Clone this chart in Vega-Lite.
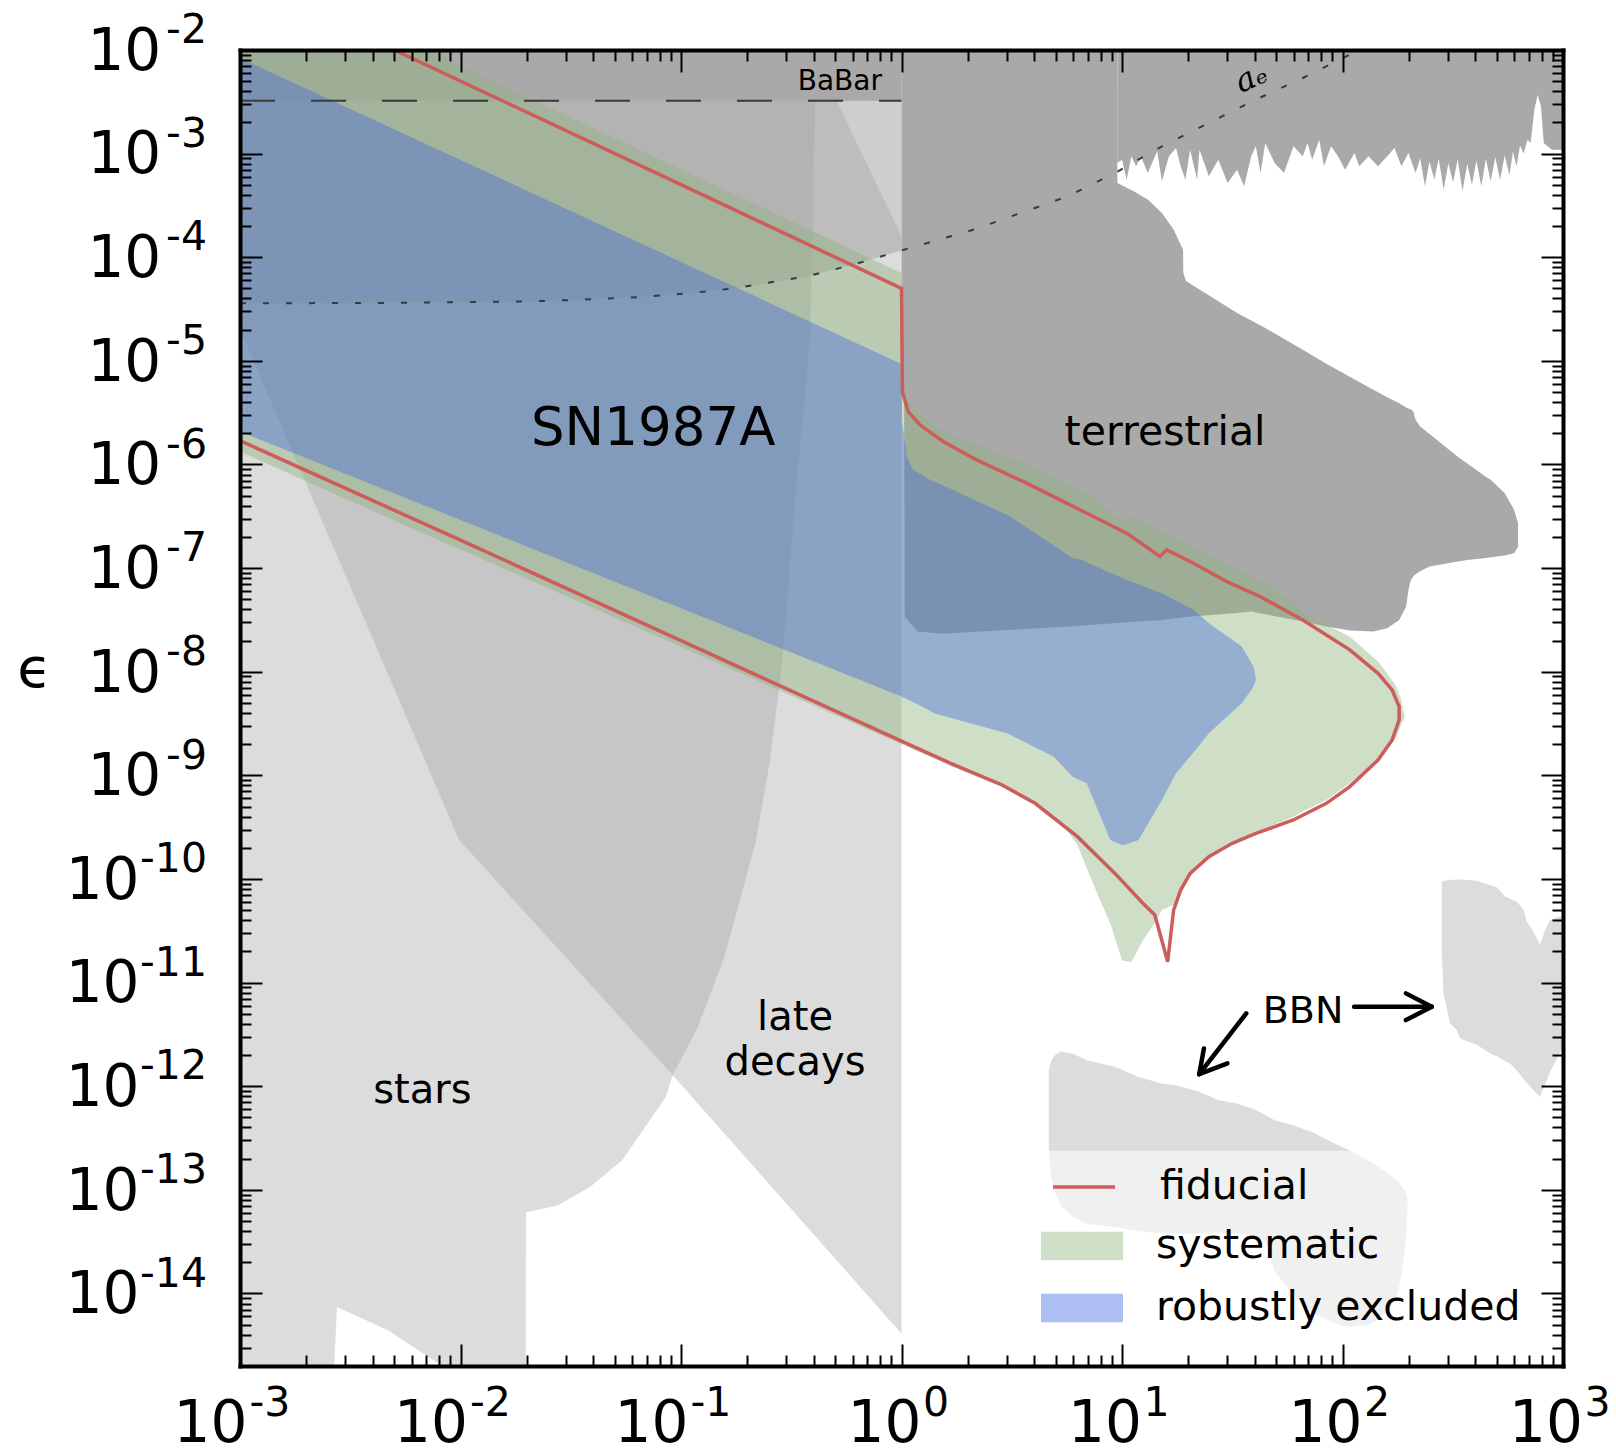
{
"$schema": "https://vega.github.io/schema/vega-lite/v6.json",
"width": 1323, "height": 1316,
"autosize": {"type": "none"},
"padding": {"left": 240, "top": 50, "right": 53, "bottom": 84},
"background": "white",
"config": {"view": {"stroke": null}, "font": "DejaVu Sans"},
"resolve": {"axis": {"x": "independent", "y": "independent"}},
"datasets": {
"late": [{"x":0.001,"lo":2.0e-5,"hi":0.01},{"x":0.00986,"lo":2.377e-10,"hi":0.01},{"x":0.09173,"lo":1.279e-12,"hi":0.01},{"x":1,"lo":4.093e-15,"hi":0.01}],
"stars": [{"x":0.001,"lo":1e-15,"hi":0.01},{"x":0.00263,"lo":1e-15,"hi":0.01},{"x":0.002754,"lo":7.41e-15,"hi":0.01},{"x":0.004688,"lo":4.41e-15,"hi":0.01},{"x":0.008954,"lo":1.78e-15,"hi":0.01},{"x":0.01977,"lo":1.78e-15,"hi":0.01},{"x":0.01982,"lo":6.04e-14,"hi":0.01},{"x":0.02767,"lo":7.10e-14,"hi":0.01},{"x":0.03868,"lo":1.067e-13,"hi":0.01},{"x":0.05408,"lo":1.932e-13,"hi":0.01},{"x":0.07047,"lo":4.365e-13,"hi":0.01},{"x":0.08531,"lo":7.889e-13,"hi":0.01},{"x":0.09173,"lo":1.279e-12,"hi":0.01},{"x":0.1194,"lo":3.741e-12,"hi":0.01},{"x":0.1574,"lo":1.778e-11,"hi":0.01},{"x":0.2175,"lo":2.208e-10,"hi":0.01},{"x":0.2512,"lo":1.259e-9,"hi":0.01},{"x":0.2767,"lo":6.194e-9,"hi":0.01},{"x":0.2901,"lo":1.507e-8,"hi":0.01},{"x":0.335,"lo":7.079e-7,"hi":0.01},{"x":0.3631,"lo":3.981e-6,"hi":0.01},{"x":0.3837,"lo":1.585e-5,"hi":0.01},{"x":0.3981,"lo":2.512e-4,"hi":0.01},{"x":0.4074,"lo":0.01,"hi":0.01}],
"ae": [{"x":0.001,"lo":3.589e-5,"hi":0.01},{"x":0.005012,"lo":3.63e-5,"hi":0.01},{"x":0.02061,"lo":3.75e-5,"hi":0.01},{"x":0.03548,"lo":3.89e-5,"hi":0.01},{"x":0.06501,"lo":4.13e-5,"hi":0.01},{"x":0.1122,"lo":4.519e-5,"hi":0.01},{"x":0.1786,"lo":5.047e-5,"hi":0.01},{"x":0.3707,"lo":6.531e-5,"hi":0.01},{"x":0.6039,"lo":8.472e-5,"hi":0.01},{"x":1,"lo":1.164e-4,"hi":0.01}],
"beam": [{"x":0.001,"lo":3.589e-5,"hi":3.243e-3},{"x":0.005012,"lo":3.63e-5,"hi":3.243e-3},{"x":0.02061,"lo":3.75e-5,"hi":3.243e-3},{"x":0.03548,"lo":3.89e-5,"hi":3.243e-3},{"x":0.06501,"lo":4.13e-5,"hi":3.243e-3},{"x":0.1122,"lo":4.519e-5,"hi":3.243e-3},{"x":0.1786,"lo":5.047e-5,"hi":3.243e-3},{"x":0.3707,"lo":6.531e-5,"hi":3.243e-3},{"x":0.507,"lo":7.727e-5,"hi":3.243e-3},{"x":0.6039,"lo":8.472e-5,"hi":1.493e-3},{"x":1,"lo":1.164e-4,"hi":1.592e-4}],
"bbnUpper": [{"x":4.656,"lo":2.51e-13,"hi":1.41e-12},{"x":4.667,"lo":2.377e-13,"hi":1.44e-12},{"x":4.786,"lo":2.377e-13,"hi":1.78e-12},{"x":5.012,"lo":2.377e-13,"hi":2.04e-12},{"x":5.284,"lo":2.377e-13,"hi":2.15e-12},{"x":5.97,"lo":2.377e-13,"hi":2.07e-12},{"x":6.918,"lo":2.377e-13,"hi":1.78e-12},{"x":9.29,"lo":2.377e-13,"hi":1.54e-12},{"x":11.89,"lo":2.377e-13,"hi":1.23e-12},{"x":15.17,"lo":2.377e-13,"hi":1.06e-12},{"x":17.58,"lo":2.377e-13,"hi":1.02e-12},{"x":22.44,"lo":2.377e-13,"hi":8.83e-13},{"x":27.35,"lo":2.377e-13,"hi":7.33e-13},{"x":33.27,"lo":2.377e-13,"hi":6.81e-13},{"x":40.46,"lo":2.377e-13,"hi":5.88e-13},{"x":44.67,"lo":2.377e-13,"hi":5.25e-13},{"x":49.2,"lo":2.377e-13,"hi":4.7e-13},{"x":59.84,"lo":2.377e-13,"hi":4.21e-13},{"x":74.13,"lo":2.377e-13,"hi":3.55e-13},{"x":80.35,"lo":2.377e-13,"hi":3.24e-13},{"x":97.72,"lo":2.377e-13,"hi":2.63e-13},{"x":107.9,"lo":2.377e-13,"hi":2.41e-13},{"x":109.1,"lo":2.377e-13,"hi":2.377e-13}],
"bbnUnderLegend": [{"x":4.667,"lo":2.377e-13,"hi":2.377e-13},{"x":4.786,"lo":1.26e-13,"hi":2.377e-13},{"x":5.012,"lo":8.91e-14,"hi":2.377e-13},{"x":5.284,"lo":7.08e-14,"hi":2.377e-13},{"x":5.97,"lo":5.5e-14,"hi":2.377e-13},{"x":6.918,"lo":4.68e-14,"hi":2.377e-13},{"x":9.29,"lo":4.37e-14,"hi":2.377e-13},{"x":11.89,"lo":3.98e-14,"hi":2.377e-13},{"x":15.17,"lo":3.8e-14,"hi":2.377e-13},{"x":17.58,"lo":3.8e-14,"hi":2.377e-13},{"x":22.44,"lo":3.8e-14,"hi":2.377e-13},{"x":27.35,"lo":3.8e-14,"hi":2.377e-13},{"x":33.27,"lo":3.8e-14,"hi":2.377e-13},{"x":40.46,"lo":3.63e-14,"hi":2.377e-13},{"x":44.67,"lo":3.16e-14,"hi":2.377e-13},{"x":49.2,"lo":1.66e-14,"hi":2.377e-13},{"x":59.84,"lo":9.55e-15,"hi":2.377e-13},{"x":74.13,"lo":6.46e-15,"hi":2.377e-13},{"x":80.35,"lo":5.89e-15,"hi":2.377e-13},{"x":97.72,"lo":4.9e-15,"hi":2.377e-13},{"x":107.9,"lo":4.79e-15,"hi":2.377e-13},{"x":109.1,"lo":4.8e-15,"hi":2.377e-13},{"x":125.9,"lo":4.9e-15,"hi":2.0e-13},{"x":138.0,"lo":5.25e-15,"hi":1.8e-13},{"x":158.5,"lo":6.61e-15,"hi":1.48e-13},{"x":176.2,"lo":9.12e-15,"hi":1.24e-13},{"x":186.2,"lo":1.585e-14,"hi":1.07e-13},{"x":194.5,"lo":3.55e-14,"hi":9.2e-14},{"x":197.2,"lo":6.31e-14,"hi":7.94e-14}],
"bbnR": [{"x":281.8,"lo":2.042e-11,"hi":9.419e-11},{"x":287.1,"lo":7.87e-12,"hi":9.55e-11},{"x":307.6,"lo":4.036e-12,"hi":9.772e-11},{"x":329.6,"lo":3.467e-12,"hi":9.908e-11},{"x":342.0,"lo":2.891e-12,"hi":9.863e-11},{"x":406.4,"lo":2.512e-12,"hi":9.638e-11},{"x":467.7,"lo":2.07e-12,"hi":8.71e-11},{"x":501.2,"lo":1.95e-12,"hi":8.299e-11},{"x":547.0,"lo":1.738e-12,"hi":6.745e-11},{"x":575.4,"lo":1.66e-12,"hi":6.457e-11},{"x":618.0,"lo":1.413e-12,"hi":6.039e-11},{"x":662.2,"lo":1.175e-12,"hi":5.012e-11},{"x":685.5,"lo":1.072e-12,"hi":3.873e-11},{"x":734.5,"lo":9.12e-13,"hi":3.097e-11},{"x":787.0,"lo":7.907e-13,"hi":2.301e-11},{"x":829.8,"lo":1.047e-12,"hi":3.214e-11},{"x":875.0,"lo":1.38e-12,"hi":4.018e-11},{"x":937.6,"lo":1.854e-12,"hi":4.266e-11},{"x":970.5,"lo":2.089e-12,"hi":4.325e-11},{"x":1000,"lo":2.399e-12,"hi":4.325e-11}],
"babar": [{"x":0.001,"lo":3.243e-3,"hi":0.01},{"x":1,"lo":3.243e-3,"hi":0.01}],
"terrBody": [{"x":1.0,"lo":5.62e-6,"hi":0.01},{"x":1.028,"lo":5.01e-6,"hi":0.01},{"x":1.035,"lo":3.40e-8,"hi":0.01},{"x":1.183,"lo":2.44e-8,"hi":0.01},{"x":1.514,"lo":2.32e-8,"hi":0.01},{"x":5.689,"lo":2.73e-8,"hi":0.01},{"x":9.506,"lo":2.95e-8,"hi":0.01},{"x":9.528,"lo":2.95e-8,"hi":5.21e-4},{"x":11.30,"lo":3.03e-8,"hi":4.34e-4},{"x":13.09,"lo":3.09e-8,"hi":3.60e-4},{"x":15.17,"lo":3.16e-8,"hi":2.67e-4},{"x":17.14,"lo":3.26e-8,"hi":1.85e-4},{"x":18.92,"lo":3.34e-8,"hi":1.18e-4},{"x":18.97,"lo":3.34e-8,"hi":7.08e-5},{"x":19.50,"lo":3.37e-8,"hi":5.89e-5},{"x":33.27,"lo":3.68e-8,"hi":2.89e-5},{"x":38.55,"lo":3.81e-8,"hi":2.45e-5},{"x":44.67,"lo":3.58e-8,"hi":2.07e-5},{"x":66.07,"lo":3.05e-8,"hi":1.28e-5},{"x":84.53,"lo":2.73e-8,"hi":9.40e-6},{"x":107.9,"lo":2.50e-8,"hi":7.02e-6},{"x":138.0,"lo":2.44e-8,"hi":5.26e-6},{"x":159.6,"lo":2.63e-8,"hi":4.46e-6},{"x":180.7,"lo":3.16e-8,"hi":3.89e-6},{"x":194.5,"lo":4.26e-8,"hi":3.55e-6},{"x":199.1,"lo":6.17e-8,"hi":3.47e-6},{"x":204.2,"lo":7.69e-8,"hi":3.39e-6},{"x":209.4,"lo":8.32e-8,"hi":3.25e-6},{"x":214.3,"lo":8.71e-8,"hi":2.70e-6},{"x":224.9,"lo":9.33e-8,"hi":2.33e-6},{"x":248.3,"lo":1.035e-7,"hi":1.97e-6},{"x":333.4,"lo":1.16e-7,"hi":1.19e-6},{"x":368.1,"lo":1.20e-7,"hi":1.02e-6},{"x":447.7,"lo":1.25e-7,"hi":7.59e-7},{"x":469.9,"lo":1.27e-7,"hi":7.11e-7},{"x":544.5,"lo":1.32e-7,"hi":5.28e-7},{"x":599.8,"lo":1.39e-7,"hi":3.65e-7},{"x":625.2,"lo":1.61e-7,"hi":2.72e-7}],
"terrTop": [{"x":9.522,"lo":8.122e-4,"hi":0.01},{"x":10.0,"lo":8.744e-4,"hi":0.01},{"x":10.50,"lo":5.605e-4,"hi":0.01},{"x":11.03,"lo":9.417e-4,"hi":0.01},{"x":11.59,"lo":7.541e-4,"hi":0.01},{"x":12.17,"lo":9.417e-4,"hi":0.01},{"x":13.09,"lo":6.501e-4,"hi":0.01},{"x":14.44,"lo":1.052e-3,"hi":0.01},{"x":15.17,"lo":5.401e-4,"hi":0.01},{"x":16.33,"lo":9.417e-4,"hi":0.01},{"x":17.58,"lo":1.133e-3,"hi":0.01},{"x":18.46,"lo":7.541e-4,"hi":0.01},{"x":19.39,"lo":5.605e-4,"hi":0.01},{"x":20.36,"lo":1.092e-3,"hi":0.01},{"x":21.92,"lo":5.605e-4,"hi":0.01},{"x":22.46,"lo":1.092e-3,"hi":0.01},{"x":24.77,"lo":6.036e-4,"hi":0.01},{"x":27.33,"lo":8.744e-4,"hi":0.01},{"x":30.15,"lo":5.204e-4,"hi":0.01},{"x":33.26,"lo":7.001e-4,"hi":0.01},{"x":35.80,"lo":4.832e-4,"hi":0.01},{"x":38.53,"lo":9.417e-4,"hi":0.01},{"x":40.46,"lo":1.176e-3,"hi":0.01},{"x":42.49,"lo":6.501e-4,"hi":0.01},{"x":44.63,"lo":1.267e-3,"hi":0.01},{"x":49.22,"lo":8.122e-4,"hi":0.01},{"x":54.31,"lo":6.501e-4,"hi":0.01},{"x":59.91,"lo":1.176e-3,"hi":0.01},{"x":66.07,"lo":9.417e-4,"hi":0.01},{"x":69.38,"lo":1.267e-3,"hi":0.01},{"x":72.87,"lo":8.744e-4,"hi":0.01},{"x":78.45,"lo":1.364e-3,"hi":0.01},{"x":82.39,"lo":7.541e-4,"hi":0.01},{"x":88.68,"lo":1.176e-3,"hi":0.01},{"x":95.46,"lo":9.417e-4,"hi":0.01},{"x":102.7,"lo":7.001e-4,"hi":0.01},{"x":113.3,"lo":1.014e-3,"hi":0.01},{"x":119.0,"lo":7.541e-4,"hi":0.01},{"x":131.3,"lo":9.417e-4,"hi":0.01},{"x":144.8,"lo":7.541e-4,"hi":0.01},{"x":159.7,"lo":9.417e-4,"hi":0.01},{"x":172.0,"lo":1.133e-3,"hi":0.01},{"x":185.1,"lo":7.541e-4,"hi":0.01},{"x":199.2,"lo":1.014e-3,"hi":0.01},{"x":214.4,"lo":6.501e-4,"hi":0.01},{"x":225.0,"lo":9.0e-4,"hi":0.01},{"x":236.5,"lo":4.832e-4,"hi":0.01},{"x":248.0,"lo":8.4e-4,"hi":0.01},{"x":260.9,"lo":5.6e-4,"hi":0.01},{"x":273.0,"lo":8.9e-4,"hi":0.01},{"x":287.7,"lo":4.487e-4,"hi":0.01},{"x":302.0,"lo":8.1e-4,"hi":0.01},{"x":317.4,"lo":5.3e-4,"hi":0.01},{"x":333.0,"lo":8.8e-4,"hi":0.01},{"x":350.1,"lo":4.324e-4,"hi":0.01},{"x":368.0,"lo":8.0e-4,"hi":0.01},{"x":386.3,"lo":5.0e-4,"hi":0.01},{"x":405.0,"lo":8.6e-4,"hi":0.01},{"x":426.0,"lo":4.832e-4,"hi":0.01},{"x":447.0,"lo":8.9e-4,"hi":0.01},{"x":469.9,"lo":5.4e-4,"hi":0.01},{"x":493.0,"lo":9.2e-4,"hi":0.01},{"x":518.3,"lo":5.605e-4,"hi":0.01},{"x":544.0,"lo":9.6e-4,"hi":0.01},{"x":571.7,"lo":6.2e-4,"hi":0.01},{"x":593.0,"lo":1.05e-3,"hi":0.01},{"x":615.2,"lo":7.541e-4,"hi":0.01},{"x":638.0,"lo":1.2e-3,"hi":0.01},{"x":662.4,"lo":1.0e-3,"hi":0.01},{"x":690.0,"lo":1.364e-3,"hi":0.01},{"x":712.9,"lo":1.267e-3,"hi":0.01},{"x":741.5,"lo":2.658e-3,"hi":0.01},{"x":767.4,"lo":3.709e-3,"hi":0.01},{"x":794.3,"lo":2.862e-3,"hi":0.01},{"x":817.9,"lo":1.267e-3,"hi":0.01},{"x":888.9,"lo":1.092e-3,"hi":0.01},{"x":1000,"lo":1.092e-3,"hi":0.01}],
"systematic": [{"x":0.001,"lo":1.334e-6,"hi":0.01},{"x":0.007031,"lo":2.084e-7,"hi":0.01},{"x":0.01,"lo":1.514e-7,"hi":7.031e-3},{"x":0.1,"lo":1.738e-8,"hi":7.031e-4},{"x":1.0,"lo":1.995e-9,"hi":7.031e-5},{"x":1.005,"lo":1.995e-9,"hi":6.026e-6},{"x":1.035,"lo":1.95e-9,"hi":5.26e-6},{"x":1.13,"lo":1.778e-9,"hi":3.373e-6},{"x":1.545,"lo":1.334e-9,"hi":2.084e-6},{"x":1.671,"lo":1.233e-9,"hi":1.95e-6},{"x":2.606,"lo":8.337e-10,"hi":1.337e-6},{"x":2.864,"lo":7.674e-10,"hi":1.23e-6},{"x":4.036,"lo":5.176e-10,"hi":9.226e-7},{"x":4.395,"lo":4.467e-10,"hi":8.57e-7},{"x":5.689,"lo":2.858e-10,"hi":6.457e-7},{"x":6.281,"lo":2.128e-10,"hi":5.888e-7},{"x":7.278,"lo":9.772e-11,"hi":5.012e-7},{"x":7.413,"lo":8.913e-11,"hi":4.909e-7},{"x":8.851,"lo":3.724e-11,"hi":3.548e-7},{"x":10.0,"lo":1.648e-11,"hi":2.884e-7},{"x":10.14,"lo":1.622e-11,"hi":2.818e-7},{"x":10.86,"lo":1.585e-11,"hi":3.105e-7},{"x":11.04,"lo":1.589e-11,"hi":3.055e-7},{"x":12.47,"lo":2.57e-11,"hi":2.692e-7},{"x":13.74,"lo":3.459e-11,"hi":2.455e-7},{"x":14.86,"lo":4.634e-11,"hi":2.254e-7},{"x":15.17,"lo":5.012e-11,"hi":2.213e-7},{"x":17.14,"lo":5.623e-11,"hi":1.95e-7},{"x":18.45,"lo":8.128e-11,"hi":1.82e-7},{"x":20.37,"lo":1.175e-10,"hi":1.66e-7},{"x":21.09,"lo":1.259e-10,"hi":1.614e-7},{"x":24.77,"lo":1.702e-10,"hi":1.349e-7},{"x":29.85,"lo":2.138e-10,"hi":1.114e-7},{"x":31.62,"lo":2.291e-10,"hi":1.047e-7},{"x":40.46,"lo":2.858e-10,"hi":8.128e-8},{"x":42.27,"lo":2.951e-10,"hi":7.762e-8},{"x":59.84,"lo":3.99e-10,"hi":4.677e-8},{"x":66.07,"lo":4.467e-10,"hi":3.811e-8},{"x":84.53,"lo":5.781e-10,"hi":2.818e-8},{"x":107.9,"lo":8.375e-10,"hi":2.183e-8},{"x":144.9,"lo":1.406e-9,"hi":1.253e-8},{"x":171.8,"lo":2.188e-9,"hi":7.745e-9},{"x":176.2,"lo":2.366e-9,"hi":7.079e-9},{"x":184.9,"lo":3.162e-9,"hi":5.346e-9},{"x":189.7,"lo":3.428e-9,"hi":3.981e-9},{"x":191.4,"lo":3.631e-9,"hi":3.802e-9}],
"robust": [{"x":0.001,"lo":2.08e-6,"hi":8.375e-3},{"x":0.01,"lo":2.917e-7,"hi":8.69e-4},{"x":0.1,"lo":4.093e-8,"hi":9.016e-5},{"x":1.0,"lo":5.754e-9,"hi":9.333e-6},{"x":1.007,"lo":5.689e-9,"hi":2.512e-6},{"x":1.019,"lo":5.623e-9,"hi":2.163e-6},{"x":1.054,"lo":5.495e-9,"hi":1.194e-6},{"x":1.13,"lo":5.082e-9,"hi":8.892e-7},{"x":1.245,"lo":4.603e-9,"hi":7.852e-7},{"x":1.3,"lo":4.365e-9,"hi":7.379e-7},{"x":1.406,"lo":3.972e-9,"hi":6.839e-7},{"x":1.841,"lo":3.388e-9,"hi":5.284e-7},{"x":3.006,"lo":2.547e-9,"hi":3.251e-7},{"x":3.105,"lo":2.46e-9,"hi":3.148e-7},{"x":4.909,"lo":1.514e-9,"hi":1.656e-7},{"x":5.97,"lo":9.705e-10,"hi":1.247e-7},{"x":6.442,"lo":9.036e-10,"hi":1.219e-7},{"x":6.918,"lo":8.375e-10,"hi":1.14e-7},{"x":8.851,"lo":2.377e-10,"hi":9.036e-8},{"x":10.0,"lo":2.128e-10,"hi":8.054e-8},{"x":10.5,"lo":2.168e-10,"hi":7.691e-8},{"x":11.89,"lo":2.377e-10,"hi":6.966e-8},{"x":15.17,"lo":5.781e-10,"hi":5.728e-8},{"x":17.58,"lo":1.047e-9,"hi":4.853e-8},{"x":21.09,"lo":1.66e-9,"hi":3.954e-8},{"x":24.77,"lo":2.547e-9,"hi":2.938e-8},{"x":34.91,"lo":4.966e-9,"hi":1.75e-8},{"x":39.45,"lo":7.178e-9,"hi":1.122e-8},{"x":40.46,"lo":8.318e-9,"hi":8.71e-9}],
"fiducial": [{"o":1,"x":0.005012,"y":0.01},{"o":2,"x":0.1,"y":5.012e-4},{"o":3,"x":1.0,"y":5.012e-5},{"o":4,"x":1.01,"y":5.012e-6},{"o":5,"x":1.072,"y":3.251e-6},{"o":6,"x":1.211,"y":2.415e-6},{"o":7,"x":1.545,"y":1.667e-6},{"o":8,"x":2.188,"y":1.109e-6},{"o":9,"x":3.69,"y":6.607e-7},{"o":10,"x":5.236,"y":4.56e-7},{"o":11,"x":7.413,"y":3.148e-7},{"o":12,"x":10.5,"y":2.173e-7},{"o":13,"x":14.86,"y":1.294e-7},{"o":14,"x":15.96,"y":1.5e-7},{"o":15,"x":21.09,"y":1.114e-7},{"o":16,"x":29.85,"y":7.413e-8},{"o":17,"x":42.27,"y":5.321e-8},{"o":18,"x":66.07,"y":3.162e-8},{"o":19,"x":107.9,"y":1.626e-8},{"o":20,"x":144.9,"y":9.661e-9},{"o":21,"x":167.9,"y":6.668e-9},{"o":22,"x":180.7,"y":4.603e-9},{"o":23,"x":180.7,"y":3.428e-9},{"o":24,"x":167.9,"y":2.198e-9},{"o":25,"x":144.9,"y":1.406e-9},{"o":26,"x":107.9,"y":7.78e-10},{"o":27,"x":84.53,"y":5.37e-10},{"o":28,"x":59.84,"y":3.707e-10},{"o":29,"x":40.46,"y":2.754e-10},{"o":30,"x":31.62,"y":2.208e-10},{"o":31,"x":24.77,"y":1.641e-10},{"o":32,"x":20.37,"y":1.132e-10},{"o":33,"x":18.45,"y":7.816e-11},{"o":34,"x":17.14,"y":5.012e-11},{"o":35,"x":16.11,"y":1.589e-11},{"o":36,"x":14.09,"y":4.487e-11},{"o":37,"x":12.47,"y":5.808e-11},{"o":38,"x":9.29,"y":1.132e-10},{"o":39,"x":6.281,"y":2.559e-10},{"o":40,"x":4.036,"y":5.37e-10},{"o":41,"x":2.864,"y":8.072e-10},{"o":42,"x":1.671,"y":1.306e-9},{"o":43,"x":1.0,"y":2.138e-9},{"o":44,"x":0.1,"y":1.995e-8},{"o":45,"x":0.01,"y":1.862e-7},{"o":46,"x":0.001,"y":1.698e-6}],
"dashed": [{"x":0.001,"y":3.243e-3},{"x":1,"y":3.243e-3}],
"dotted": [{"x":0.001,"y":3.589e-5},{"x":0.005012,"y":3.63e-5},{"x":0.02061,"y":3.75e-5},{"x":0.03548,"y":3.89e-5},{"x":0.06501,"y":4.13e-5},{"x":0.1122,"y":4.519e-5},{"x":0.1786,"y":5.047e-5},{"x":0.3707,"y":6.531e-5},{"x":0.6039,"y":8.472e-5},{"x":1,"y":1.164e-4},{"x":2.133,"y":1.849e-4},{"x":5.689,"y":3.882e-4},{"x":9.29,"y":6.501e-4},{"x":15.17,"y":1.175e-3},{"x":24.77,"y":1.977e-3},{"x":40.46,"y":3.319e-3},{"x":66.07,"y":5.37e-3},{"x":107.9,"y":9.036e-3},{"x":113.2,"y":0.01}],
"arrows": [{"x":112.9,"y":5.844e-12,"x2":253.9,"y2":5.844e-12},{"x":193.9,"y":7.87e-12,"x2":253.9,"y2":5.844e-12},{"x":193.9,"y":4.346e-12,"x2":253.9,"y2":5.844e-12},{"x":36.6,"y":5.045e-12,"x2":22.4,"y2":1.309e-12},{"x":30.08,"y":1.66e-12,"x2":22.4,"y2":1.309e-12},{"x":23.53,"y":2.317e-12,"x2":22.4,"y2":1.309e-12}],
"tSN": [{"x":0.0748,"y":1.549e-6,"t":"SN1987A"}],
"tTerr": [{"x":15.67,"y":1.549e-6,"t":"terrestrial"}],
"t40": [{"x":0.006716,"y":6.823e-13,"t":"stars"},{"x":0.329,"y":3.483e-12,"t":"late"},{"x":0.329,"y":1.279e-12,"t":"decays"}],
"tBaBar": [{"x":0.5254,"y":4.147e-3,"t":"BaBar"}],
"tBBN": [{"x":66.26,"y":4.04e-12,"t":"BBN"}],
"tAe": [{"x":38.46,"y":5.42e-3,"t":"aₑ"}]
},
"layer": [
{"data":{"name":"late"},"mark":{"type":"area","orient":"vertical","color":"#a0a0a0","opacity":0.37,"clip":true},
 "encoding":{
  "x":{"field":"x","type":"quantitative","scale":{"type":"log","domain":[0.001,1000],"nice":false},
   "axis":{"orient":"bottom","values":[0.001,0.002,0.003,0.004,0.005,0.006,0.007,0.008,0.009,0.01,0.02,0.03,0.04,0.05,0.06,0.07,0.08,0.09,0.1,0.2,0.3,0.4,0.5,0.6,0.7,0.8,0.9,1,2,3,4,5,6,7,8,9,10,20,30,40,50,60,70,80,90,100,200,300,400,500,600,700,800,900,1000],"labels":false,"grid":false,"title":null,"domain":true,"domainColor":"black","domainWidth":4,"domainCap":"square","ticks":true,"tickColor":"black","tickWidth":2,"tickSize":{"condition":{"test":"abs(log(datum.value)/LN10 - round(log(datum.value)/LN10)) < 0.001","value":-22},"value":-11},"zindex":2}},
  "y":{"field":"lo","type":"quantitative","scale":{"type":"log","domain":[1.995e-15,0.01],"nice":false},
   "axis":{"orient":"left","values":[2e-15,3e-15,4e-15,5e-15,6e-15,7e-15,8e-15,9e-15,1e-14,2e-14,3e-14,4e-14,5e-14,6e-14,7e-14,8e-14,9e-14,1e-13,2e-13,3e-13,4e-13,5e-13,6e-13,7e-13,8e-13,9e-13,1e-12,2e-12,3e-12,4e-12,5e-12,6e-12,7e-12,8e-12,9e-12,1e-11,2e-11,3e-11,4e-11,5e-11,6e-11,7e-11,8e-11,9e-11,1e-10,2e-10,3e-10,4e-10,5e-10,6e-10,7e-10,8e-10,9e-10,1e-9,2e-9,3e-9,4e-9,5e-9,6e-9,7e-9,8e-9,9e-9,1e-8,2e-8,3e-8,4e-8,5e-8,6e-8,7e-8,8e-8,9e-8,1e-7,2e-7,3e-7,4e-7,5e-7,6e-7,7e-7,8e-7,9e-7,1e-6,2e-6,3e-6,4e-6,5e-6,6e-6,7e-6,8e-6,9e-6,1e-5,2e-5,3e-5,4e-5,5e-5,6e-5,7e-5,8e-5,9e-5,1e-4,2e-4,3e-4,4e-4,5e-4,6e-4,7e-4,8e-4,9e-4,1e-3,2e-3,3e-3,4e-3,5e-3,6e-3,7e-3,8e-3,9e-3,1e-2],"labels":false,"grid":false,"title":"ϵ","titleAngle":0,"titleX":-206,"titleY":619,"titleFont":"DejaVu Sans","titleFontSize":56,"titleFontWeight":"normal","titleColor":"black","titleAlign":"center","titleBaseline":"middle","domain":true,"domainColor":"black","domainWidth":4,"domainCap":"square","ticks":true,"tickColor":"black","tickWidth":2,"tickSize":{"condition":{"test":"abs(log(datum.value)/LN10 - round(log(datum.value)/LN10)) < 0.001","value":-22},"value":-11},"zindex":2}},
  "y2":{"field":"hi"}}},
{"data":{"name":"stars"},"mark":{"type":"area","orient":"vertical","color":"#a0a0a0","opacity":0.37,"clip":true},
 "encoding":{
  "x":{"field":"x","type":"quantitative","scale":{"type":"log","domain":[0.001,1000],"nice":false},
   "axis":{"orient":"bottom","values":[0.001,0.01,0.1,1,10,100,1000],"domain":false,"ticks":false,"grid":false,"title":null,"labelExpr":"'10'","labelFont":"DejaVu Sans","labelFontSize":58,"labelColor":"black","labelAlign":"center","labelBaseline":"alphabetic","labelPadding":75.7,"labelOffset":{"condition":{"test":"datum.value < 1","value":-30},"value":-17.5},"labelFlush":false,"labelOverlap":false,"labelBound":false,"labelAngle":0,"zindex":2}},
  "y":{"field":"lo","type":"quantitative","scale":{"type":"log","domain":[1.995e-15,0.01],"nice":false},
   "axis":{"orient":"left","values":[1e-14,1e-13,1e-12,1e-11,1e-10,1e-9,1e-8,1e-7,1e-6,1e-5,1e-4,1e-3,1e-2],"domain":false,"ticks":false,"grid":false,"title":null,"labelExpr":"'10'","labelFont":"DejaVu Sans","labelFontSize":58,"labelColor":"black","labelAlign":"right","labelBaseline":"alphabetic","labelPadding":{"condition":{"test":"datum.value < 5e-10","value":101},"value":79.3},"labelOffset":19.3,"labelFlush":false,"labelOverlap":false,"labelBound":false,"labelAngle":0,"zindex":2}},
  "y2":{"field":"hi"}}},
{"data":{"name":"ae"},"mark":{"type":"area","orient":"vertical","color":"#a0a0a0","opacity":0.22,"clip":true},
 "encoding":{
  "x":{"field":"x","type":"quantitative","scale":{"type":"log","domain":[0.001,1000],"nice":false},
   "axis":{"orient":"bottom","values":[0.001,0.01,0.1,1,10,100,1000],"domain":false,"ticks":false,"grid":false,"title":null,"labelExpr":"'' + round(log(datum.value)/LN10)","labelFont":"DejaVu Sans","labelFontSize":41,"labelColor":"black","labelAlign":"left","labelBaseline":"alphabetic","labelPadding":49,"labelOffset":{"condition":{"test":"datum.value < 1","value":9},"value":21},"labelFlush":false,"labelOverlap":false,"labelBound":false,"labelAngle":0,"zindex":2}},
  "y":{"field":"lo","type":"quantitative","scale":{"type":"log","domain":[1.995e-15,0.01],"nice":false},
   "axis":{"orient":"left","values":[1e-14,1e-13,1e-12,1e-11,1e-10,1e-9,1e-8,1e-7,1e-6,1e-5,1e-4,1e-3,1e-2],"domain":false,"ticks":false,"grid":false,"title":null,"labelExpr":"'' + round(log(datum.value)/LN10)","labelFont":"DejaVu Sans","labelFontSize":41,"labelColor":"black","labelAlign":"right","labelBaseline":"alphabetic","labelPadding":33.5,"labelOffset":-7.3,"labelFlush":false,"labelOverlap":false,"labelBound":false,"labelAngle":0,"zindex":2}},
  "y2":{"field":"hi"}}},
{"data":{"name":"beam"},"mark":{"type":"area","orient":"vertical","color":"#a0a0a0","opacity":0.36,"clip":true},
 "encoding":{
  "x":{"field":"x","type":"quantitative","scale":{"type":"log","domain":[0.001,1000],"nice":false},
   "axis":{"orient":"top","values":[0.001,0.002,0.003,0.004,0.005,0.006,0.007,0.008,0.009,0.01,0.02,0.03,0.04,0.05,0.06,0.07,0.08,0.09,0.1,0.2,0.3,0.4,0.5,0.6,0.7,0.8,0.9,1,2,3,4,5,6,7,8,9,10,20,30,40,50,60,70,80,90,100,200,300,400,500,600,700,800,900,1000],"labels":false,"grid":false,"title":null,"domain":true,"domainColor":"black","domainWidth":4,"domainCap":"square","ticks":true,"tickColor":"black","tickWidth":2,"tickSize":{"condition":{"test":"abs(log(datum.value)/LN10 - round(log(datum.value)/LN10)) < 0.001","value":-22},"value":-11},"zindex":2}},
  "y":{"field":"lo","type":"quantitative","scale":{"type":"log","domain":[1.995e-15,0.01],"nice":false},
   "axis":{"orient":"right","values":[2e-15,3e-15,4e-15,5e-15,6e-15,7e-15,8e-15,9e-15,1e-14,2e-14,3e-14,4e-14,5e-14,6e-14,7e-14,8e-14,9e-14,1e-13,2e-13,3e-13,4e-13,5e-13,6e-13,7e-13,8e-13,9e-13,1e-12,2e-12,3e-12,4e-12,5e-12,6e-12,7e-12,8e-12,9e-12,1e-11,2e-11,3e-11,4e-11,5e-11,6e-11,7e-11,8e-11,9e-11,1e-10,2e-10,3e-10,4e-10,5e-10,6e-10,7e-10,8e-10,9e-10,1e-9,2e-9,3e-9,4e-9,5e-9,6e-9,7e-9,8e-9,9e-9,1e-8,2e-8,3e-8,4e-8,5e-8,6e-8,7e-8,8e-8,9e-8,1e-7,2e-7,3e-7,4e-7,5e-7,6e-7,7e-7,8e-7,9e-7,1e-6,2e-6,3e-6,4e-6,5e-6,6e-6,7e-6,8e-6,9e-6,1e-5,2e-5,3e-5,4e-5,5e-5,6e-5,7e-5,8e-5,9e-5,1e-4,2e-4,3e-4,4e-4,5e-4,6e-4,7e-4,8e-4,9e-4,1e-3,2e-3,3e-3,4e-3,5e-3,6e-3,7e-3,8e-3,9e-3,1e-2],"labels":false,"grid":false,"title":null,"domain":true,"domainColor":"black","domainWidth":4,"domainCap":"square","ticks":true,"tickColor":"black","tickWidth":2,"tickSize":{"condition":{"test":"abs(log(datum.value)/LN10 - round(log(datum.value)/LN10)) < 0.001","value":-22},"value":-11},"zindex":2}},
  "y2":{"field":"hi"}}},
{"data":{"name":"bbnUpper"},"mark":{"type":"area","orient":"vertical","color":"#a0a0a0","opacity":0.37,"clip":true},
 "encoding":{"x":{"field":"x","type":"quantitative","axis":null},"y":{"field":"lo","type":"quantitative","axis":null},"y2":{"field":"hi"}}},
{"data":{"name":"bbnUnderLegend"},"mark":{"type":"area","orient":"vertical","color":"#a0a0a0","opacity":0.16,"clip":true},
 "encoding":{"x":{"field":"x","type":"quantitative","axis":null},"y":{"field":"lo","type":"quantitative","axis":null},"y2":{"field":"hi"}}},
{"data":{"name":"bbnR"},"mark":{"type":"area","orient":"vertical","color":"#a0a0a0","opacity":0.37,"clip":true},
 "encoding":{"x":{"field":"x","type":"quantitative","axis":null},"y":{"field":"lo","type":"quantitative","axis":null},"y2":{"field":"hi"}}},
{"data":{"name":"babar"},"mark":{"type":"area","orient":"vertical","color":"#a9a9a9","clip":true},
 "encoding":{"x":{"field":"x","type":"quantitative","axis":null},"y":{"field":"lo","type":"quantitative","axis":null},"y2":{"field":"hi"}}},
{"data":{"name":"terrBody"},"mark":{"type":"area","orient":"vertical","color":"#a9a9a9","clip":true},
 "encoding":{"x":{"field":"x","type":"quantitative","axis":null},"y":{"field":"lo","type":"quantitative","axis":null},"y2":{"field":"hi"}}},
{"data":{"name":"terrTop"},"mark":{"type":"area","orient":"vertical","color":"#a9a9a9","clip":true},
 "encoding":{"x":{"field":"x","type":"quantitative","axis":null},"y":{"field":"lo","type":"quantitative","axis":null},"y2":{"field":"hi"}}},
{"data":{"name":"systematic"},"mark":{"type":"area","orient":"vertical","opacity":0.43,"clip":true},
 "encoding":{"x":{"field":"x","type":"quantitative","axis":null},"y":{"field":"lo","type":"quantitative","axis":null},"y2":{"field":"hi"},
  "fill":{"datum":"systematic","type":"nominal","scale":{"domain":["systematic","robustly excluded"],"range":["#8fb27d","#4169e1"]},
   "legend":{"title":null,"orient":"none","legendX":815.5,"legendY":1169.5,"direction":"vertical","symbolType":"M-2,-0.7H2V0.7H-2Z","symbolSize":1681,"symbolStrokeWidth":0,"symbolOpacity":0.43,"labelFont":"DejaVu Sans","labelFontSize":41,"labelColor":"black","labelOffset":53.5,"labelLimit":0,"rowPadding":20,"padding":6}}}},
{"data":{"name":"robust"},"mark":{"type":"area","orient":"vertical","opacity":0.4,"clip":true},
 "encoding":{"x":{"field":"x","type":"quantitative","axis":null},"y":{"field":"lo","type":"quantitative","axis":null},"y2":{"field":"hi"},
  "fill":{"datum":"robustly excluded","type":"nominal","scale":{"domain":["systematic","robustly excluded"],"range":["#8fb27d","#4169e1"]},
   "legend":{"title":null,"orient":"none","legendX":815.5,"legendY":1169.5,"direction":"vertical","symbolType":"M-2,-0.7H2V0.7H-2Z","symbolSize":1681,"symbolStrokeWidth":0,"symbolOpacity":0.43,"labelFont":"DejaVu Sans","labelFontSize":41,"labelColor":"black","labelOffset":53.5,"labelLimit":0,"rowPadding":20,"padding":6}}}},
{"data":{"name":"dashed"},"mark":{"type":"line","color":"#3a3a3a","strokeWidth":2,"strokeDash":[35,36],"clip":true},
 "encoding":{"x":{"field":"x","type":"quantitative","axis":null},"y":{"field":"y","type":"quantitative","axis":null}}},
{"data":{"name":"dotted"},"mark":{"type":"line","color":"#3a3a3a","strokeWidth":2,"strokeDash":[6,17],"clip":true},
 "encoding":{"x":{"field":"x","type":"quantitative","axis":null},"y":{"field":"y","type":"quantitative","axis":null}}},
{"data":{"name":"fiducial"},"mark":{"type":"line","strokeWidth":3.5,"clip":true},
 "encoding":{"x":{"field":"x","type":"quantitative","axis":null},"y":{"field":"y","type":"quantitative","axis":null},"order":{"field":"o","type":"quantitative"},
  "stroke":{"datum":"fiducial","type":"nominal","scale":{"domain":["fiducial"],"range":["#cd5c5c"]},
   "legend":{"title":null,"orient":"none","legendX":805,"legendY":1098,"symbolType":"stroke","symbolSize":3844,"symbolStrokeWidth":3.5,"symbolOpacity":1,"labelFont":"DejaVu Sans","labelFontSize":41,"labelColor":"black","labelOffset":43,"labelLimit":0,"padding":6}}}},
{"data":{"name":"arrows"},"mark":{"type":"rule","color":"black","strokeWidth":4.5,"strokeCap":"round","clip":true},
 "encoding":{"x":{"field":"x","type":"quantitative","axis":null},"y":{"field":"y","type":"quantitative","axis":null},"x2":{"field":"x2"},"y2":{"field":"y2"}}},
{"data":{"name":"tSN"},"mark":{"type":"text","font":"DejaVu Sans","fontSize":53,"color":"black","align":"center","baseline":"alphabetic"},
 "encoding":{"x":{"field":"x","type":"quantitative","axis":null},"y":{"field":"y","type":"quantitative","axis":null},"text":{"field":"t"}}},
{"data":{"name":"tTerr"},"mark":{"type":"text","font":"DejaVu Sans","fontSize":41,"color":"black","align":"center","baseline":"alphabetic"},
 "encoding":{"x":{"field":"x","type":"quantitative","axis":null},"y":{"field":"y","type":"quantitative","axis":null},"text":{"field":"t"}}},
{"data":{"name":"t40"},"mark":{"type":"text","font":"DejaVu Sans","fontSize":40,"color":"black","align":"center","baseline":"alphabetic"},
 "encoding":{"x":{"field":"x","type":"quantitative","axis":null},"y":{"field":"y","type":"quantitative","axis":null},"text":{"field":"t"}}},
{"data":{"name":"tBaBar"},"mark":{"type":"text","font":"DejaVu Sans","fontSize":28,"color":"black","align":"center","baseline":"alphabetic"},
 "encoding":{"x":{"field":"x","type":"quantitative","axis":null},"y":{"field":"y","type":"quantitative","axis":null},"text":{"field":"t"}}},
{"data":{"name":"tBBN"},"mark":{"type":"text","font":"DejaVu Sans","fontSize":38,"color":"black","align":"center","baseline":"alphabetic"},
 "encoding":{"x":{"field":"x","type":"quantitative","axis":null},"y":{"field":"y","type":"quantitative","axis":null},"text":{"field":"t"}}},
{"data":{"name":"tAe"},"mark":{"type":"text","font":"DejaVu Serif","fontStyle":"italic","fontSize":32,"color":"black","align":"center","baseline":"middle","angle":335},
 "encoding":{"x":{"field":"x","type":"quantitative","axis":null},"y":{"field":"y","type":"quantitative","axis":null},"text":{"field":"t"}}}
]
}
